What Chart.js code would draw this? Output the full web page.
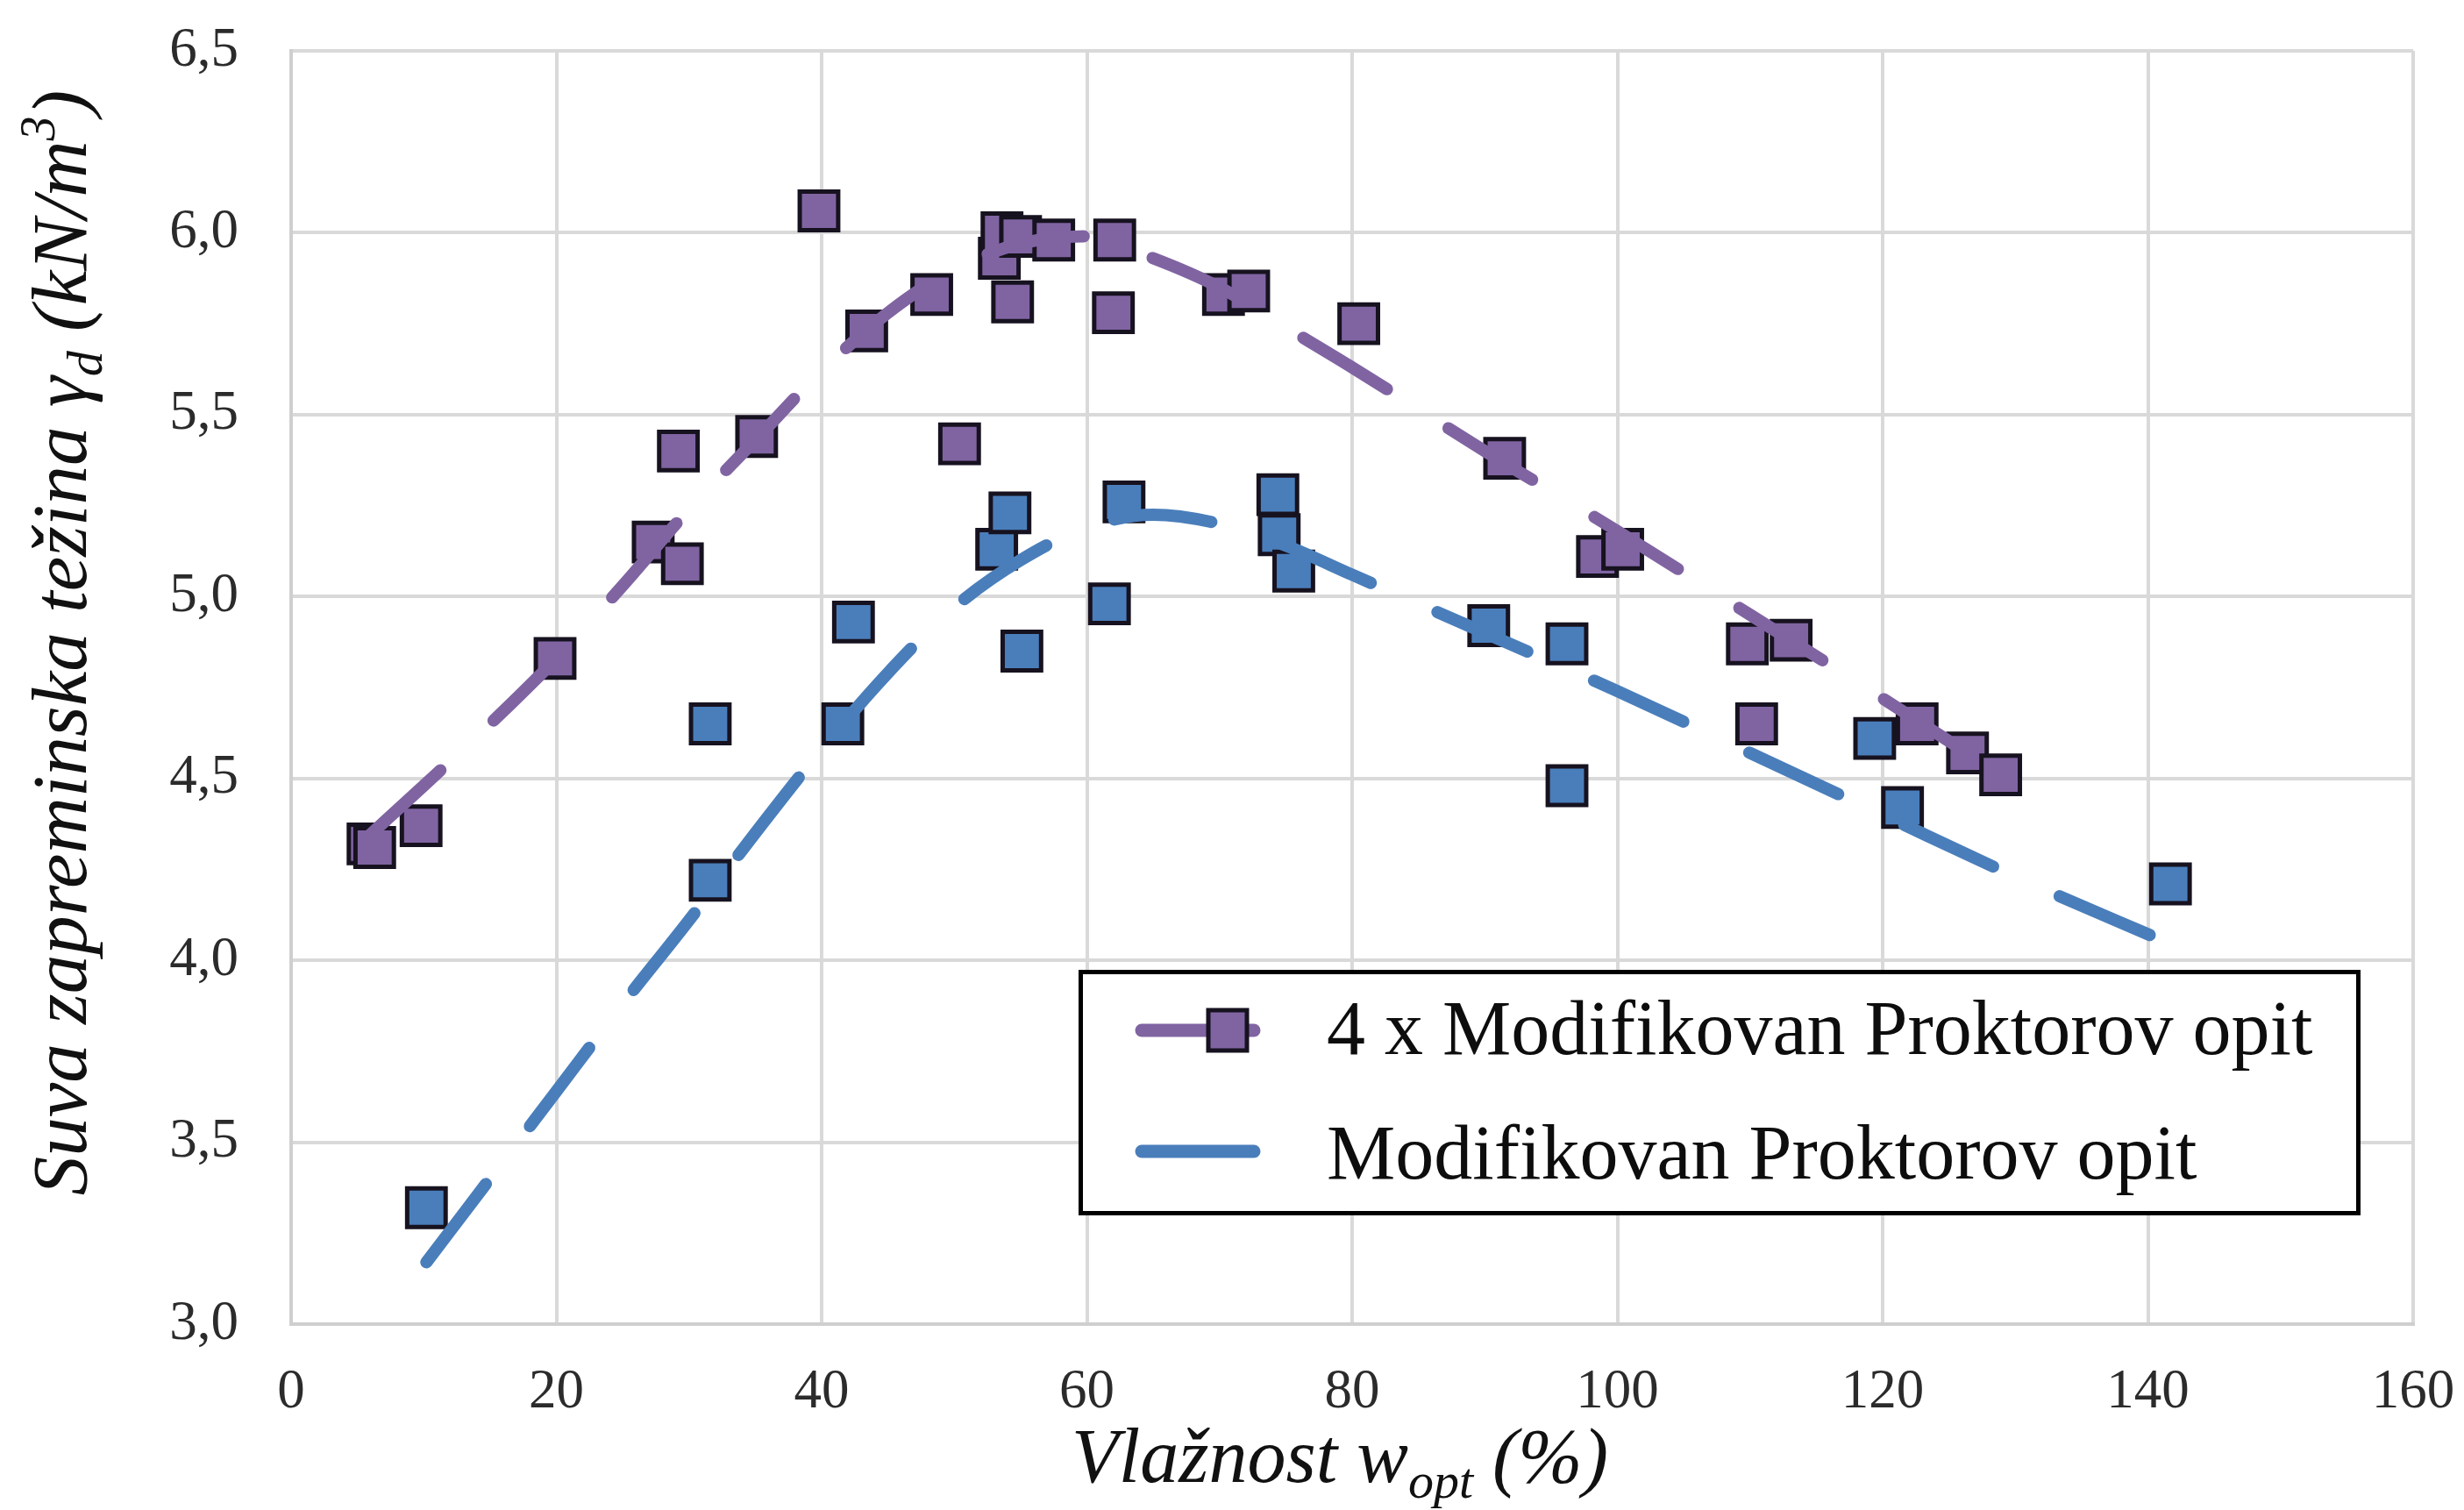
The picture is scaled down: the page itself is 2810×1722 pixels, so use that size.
<!DOCTYPE html>
<html><head><meta charset="utf-8">
<script src="https://cdn.jsdelivr.net/npm/chart.js@4/dist/chart.umd.min.js"></script>
<style>html,body{margin:0;padding:0;background:#fff;}canvas{display:block;}</style>
</head><body>
<canvas id="c" width="2810" height="1722"></canvas>
<script>
// ---- data ----
const purpleX = [5.8, 6.3, 9.8, 19.9, 27.3, 29.2, 29.5, 35.1, 39.8, 43.4, 48.3, 50.4, 53.4, 53.6, 54.4, 55.0, 57.5, 62.0, 62.1, 70.3, 72.2, 80.5, 91.5, 98.5, 100.4, 109.8, 110.5, 113.1, 122.6, 126.4, 128.9];
const purpleY = [4.32, 4.31, 4.37, 4.83, 5.15, 5.40, 5.09, 5.44, 6.06, 5.73, 5.83, 5.42, 5.93, 6.00, 5.81, 5.99, 5.98, 5.78, 5.98, 5.83, 5.84, 5.75, 5.38, 5.11, 5.13, 4.87, 4.65, 4.88, 4.65, 4.57, 4.51];
const blueX = [10.2, 31.6, 31.6, 41.6, 42.4, 53.2, 54.2, 55.1, 61.7, 62.8, 74.4, 74.5, 75.6, 90.3, 96.2, 96.2, 119.4, 121.5, 141.7];
const blueY = [3.32, 4.22, 4.65, 4.65, 4.93, 5.13, 5.23, 4.85, 4.98, 5.26, 5.28, 5.17, 5.07, 4.92, 4.87, 4.48, 4.61, 4.42, 4.21];
const purpleTrendX = [5.8, 10, 15, 20, 25, 30, 35, 40, 45, 50, 55, 60, 65, 70, 75, 80, 90, 100, 110, 120, 128.9];
const purpleTrendY = [4.34, 4.48, 4.65, 4.83, 5.03, 5.24, 5.43, 5.62, 5.78, 5.90, 5.97, 5.99, 5.93, 5.85, 5.74, 5.63, 5.40, 5.18, 4.95, 4.72, 4.51];
const blueTrendX = [10.2, 15, 20, 25, 30, 35, 40, 45, 50, 55, 60, 65, 70, 75, 80, 90, 100, 110, 120, 130, 141.7];
const blueTrendY = [3.17, 3.40, 3.64, 3.88, 4.11, 4.35, 4.58, 4.79, 4.97, 5.10, 5.19, 5.225, 5.20, 5.14, 5.06, 4.90, 4.74, 4.57, 4.40, 4.23, 4.045];
const xTickLabels = ['0', '20', '40', '60', '80', '100', '120', '140', '160'];
const yTickLabels = ['3,0', '3,5', '4,0', '4,5', '5,0', '5,5', '6,0', '6,5'];
const seriesNames = ['4 x Modifikovan Proktorov opit', 'Modifikovan Proktorov opit'];
const xTitleParts = ['Vlažnost w', 'opt', ' (%)'];
const yTitleParts = ['Suva zapreminska težina γ', 'd', ' (kN/m', '3', ')'];

// ---- styles ----
const PURPLE = '#8064A2';
const BLUE = '#4A7EBB';
const EDGE = '#17121f';
const SERIF = '"Liberation Serif", "Times New Roman", serif';
const toPts = (xs, ys) => xs.map((x, i) => ({x: x, y: ys[i]}));

function drawRich(ctx, parts, cx, baseY) {
  let total = 0;
  parts.forEach(p => { ctx.font = 'italic ' + p[1] + 'px ' + SERIF; total += ctx.measureText(p[0]).width; });
  let x = cx - total / 2;
  ctx.textAlign = 'left';
  ctx.textBaseline = 'alphabetic';
  parts.forEach(p => {
    ctx.font = 'italic ' + p[1] + 'px ' + SERIF;
    ctx.fillText(p[0], x, baseY + p[2]);
    x += ctx.measureText(p[0]).width;
  });
}

const decor = {
  id: 'decor',
  afterDraw(chart) {
    const ctx = chart.ctx;
    ctx.save();
    ctx.fillStyle = '#111';
    drawRich(ctx, [[xTitleParts[0], 88, 0], [xTitleParts[1], 58, 18], [xTitleParts[2], 88, 0]], 1528, 1690);
    ctx.save();
    ctx.translate(98, 733);
    ctx.rotate(-Math.PI / 2);
    drawRich(ctx, [[yTitleParts[0], 89, 0], [yTitleParts[1], 58, 18], [yTitleParts[2], 89, 0], [yTitleParts[3], 56, -36], [yTitleParts[4], 89, 0]], 0, 0);
    ctx.restore();
    const bx = 1230, by = 1106, bw = 1462, bh = 280;
    ctx.fillStyle = '#fff';
    ctx.fillRect(bx, by, bw, bh);
    ctx.lineWidth = 5;
    ctx.strokeStyle = '#000';
    ctx.strokeRect(bx + 2.5, by + 2.5, bw - 5, bh - 5);
    const rows = [{y: 1175, c: PURPLE, marker: true, base: 1202}, {y: 1313, c: BLUE, marker: false, base: 1344}];
    rows.forEach((r, i) => {
      ctx.beginPath();
      ctx.lineCap = 'round';
      ctx.lineWidth = 15;
      ctx.strokeStyle = r.c;
      ctx.moveTo(1302, r.y);
      ctx.lineTo(1430, r.y);
      ctx.stroke();
      if (r.marker) {
        ctx.fillStyle = r.c;
        ctx.fillRect(1378, r.y - 23, 44, 46);
        ctx.lineWidth = 5;
        ctx.strokeStyle = EDGE;
        ctx.strokeRect(1378, r.y - 23, 44, 46);
      }
      ctx.fillStyle = '#0d0d0d';
      ctx.font = '88px ' + SERIF;
      ctx.textAlign = 'left';
      ctx.textBaseline = 'alphabetic';
      ctx.fillText(seriesNames[i], 1513, r.base);
    });
    ctx.restore();
  }
};

new Chart(document.getElementById('c'), {
  type: 'scatter',
  data: {
    datasets: [
      {label: seriesNames[0] + ' trend', data: toPts(purpleTrendX, purpleTrendY), showLine: true, pointRadius: 0,
       borderColor: PURPLE, borderWidth: 14, borderDash: [112, 83], borderCapStyle: 'round',
       cubicInterpolationMode: 'monotone', order: 0},
      {label: seriesNames[1] + ' trend', data: toPts(blueTrendX, blueTrendY), showLine: true, pointRadius: 0,
       borderColor: BLUE, borderWidth: 14, borderDash: [112, 83], borderCapStyle: 'round',
       cubicInterpolationMode: 'monotone', order: 0},
      {label: seriesNames[0], data: toPts(purpleX, purpleY), pointStyle: 'rect', pointRadius: 31,
       backgroundColor: PURPLE, borderColor: EDGE, borderWidth: 5, order: 1},
      {label: seriesNames[1], data: toPts(blueX, blueY), pointStyle: 'rect', pointRadius: 31,
       backgroundColor: BLUE, borderColor: EDGE, borderWidth: 5, order: 2}
    ]
  },
  options: {
    responsive: false,
    animation: false,
    devicePixelRatio: 1,
    layout: {padding: {left: 0, top: 58, right: 58, bottom: 0}},
    plugins: {legend: {display: false}, tooltip: {enabled: false}},
    scales: {
      x: {
        type: 'linear', min: 0, max: 160,
        afterFit: s => { s.height = 212; s.paddingLeft = 0; s.paddingRight = 0; },
        grid: {color: '#d9d9d9', lineWidth: 4, drawTicks: false},
        border: {color: '#cfcfcf', width: 4},
        ticks: {stepSize: 20, padding: 41, color: '#2b2b2b', font: {family: SERIF, size: 63},
                maxRotation: 0, autoSkip: false, callback: (v, i) => xTickLabels[i]}
      },
      y: {
        type: 'linear', min: 3, max: 6.5,
        afterFit: s => { s.width = 332; s.paddingTop = 0; s.paddingBottom = 0; },
        grid: {color: '#d9d9d9', lineWidth: 4, drawTicks: false},
        border: {color: '#cfcfcf', width: 4},
        ticks: {stepSize: 0.5, padding: 60, color: '#2b2b2b', font: {family: SERIF, size: 63},
                callback: (v, i) => yTickLabels[i]}
      }
    }
  },
  plugins: [decor]
});
</script>
</body></html>
